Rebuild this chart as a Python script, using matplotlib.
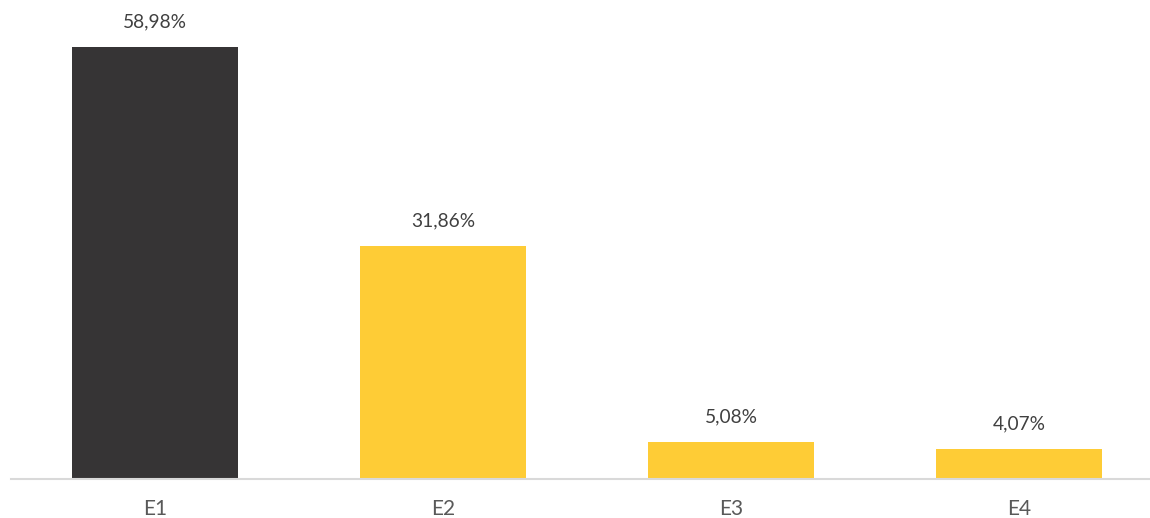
import matplotlib.pyplot as plt

categories = ['E1', 'E2', 'E3', 'E4']
values = [58.98, 31.86, 5.08, 4.07]
labels = ['58,98%', '31,86%', '5,08%', '4,07%']
colors = ['#363435', '#FECC36', '#FECC36', '#FECC36']

plt.rcParams['font.family'] = ['Lato', 'DejaVu Sans']

fig = plt.figure(figsize=(11.5, 5.18), dpi=100)
ax = fig.add_axes([11 / 1150, 39 / 518, 1152 / 1150, 440 / 518])

x = range(len(categories))
bars = ax.bar(x, values, width=0.573, color=colors)

for b, lab in zip(bars, labels):
    ax.annotate(lab, (b.get_x() + b.get_width() / 2, b.get_height()),
                xytext=(0, 18), textcoords='offset points',
                ha='center', va='center', fontsize=13.8, color='#404040')

ax.set_xlim(-0.5, 3.5)
ax.set_ylim(0, 60.07)
ax.set_xticks(list(x))
ax.set_xticklabels(categories, fontsize=15, color='#595959')
ax.tick_params(axis='x', length=0, pad=14.5)
ax.set_yticks([])
for s in ['top', 'right', 'left']:
    ax.spines[s].set_visible(False)
ax.spines['bottom'].set_color('#D9D9D9')
ax.spines['bottom'].set_linewidth(1.5)

fig.savefig('out.png', dpi=100)
